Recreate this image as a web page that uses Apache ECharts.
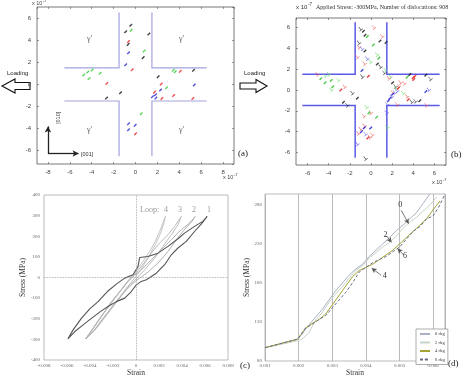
<!DOCTYPE html>
<html>
<head>
<meta charset="utf-8">
<script src="https://cdn.jsdelivr.net/npm/echarts@6/dist/echarts.min.js"></script>
<style>
  html, body { margin: 0; padding: 0; background: #fff; }
  #chart { width: 469px; height: 380px; }
</style>
</head>
<body>
<div id="chart"></div>
<script>
// ---- panel (a): dislocations before loading, x 10^-7 m
const aBlack = [[-0.43,5.35],[-0.9,4.77],[1.22,4.56],[-0.67,3.62],[0.7,2.42],[-1.37,-0.76],[-2.65,-1.24],[2.07,0.69],[5.3,1.27]]
const aGreen = [[-0.4,4.9],[0.79,3.02],[-4.73,0.85],[-4.36,1.12],[-3.96,1.3],[-3.23,1.0],[-4.24,0.54],[3.45,1.27],[3.63,1.15],[2.84,-0.3],[0.52,-2.66]]
const aRed = [[-0.64,3.87],[-0.3,1.33],[-2.62,0.09],[4.09,1.18],[2.35,0.03],[1.74,-0.7],[2.41,-1.27],[3.48,-1.0],[5.24,-1.27],[0,-4.47]]
const aBlue = [[-0.64,2.87],[-0.9,1.78],[5.37,-0.06],[2.29,-0.51],[1.83,-0.94],[1.55,-1.12],[1.86,-1.24],[-0.64,-3.56],[-0.03,-3.69],[-0.64,-4.1]]

// ---- panel (b): dislocations at -300MPa (dots and "T" symbols)
const bBlackDot = [[-0.72,5.63],[-0.57,5.25],[0.85,4.69],[1.42,4.56],[-0.57,3.74],[0.6,2.48],[-1.29,-0.79],[-2.61,-1.19],[2.04,0.69],[4.62,-1.04],[3.68,1.48],[5.19,1.42]]
const bBlackTee = [[-1.04,5.88],[-1.19,4.56],[0.85,2.26],[-0.88,1.32],[-1.82,-0.25],[-2.3,-1.42],[2.26,0.38],[4.15,-1.04],[5.57,1.1],[-0.57,-6.54],[1.2,1.7],[3.8,-1.1]]
const bGreenDot = [[-0.35,5.13],[0.22,4.31],[0.75,3.05],[-4.75,1.07],[-4.34,0.69],[-3.77,0.91],[-3.62,0.31],[3.43,1.23],[0.53,-2.61],[-0.2,-2.2]]
const bGreenTee = [[0.53,3.43],[1.32,1.95],[-0.09,2.74],[-4.03,1.54],[-3.14,1.0],[-3.8,0.06],[1.79,1.32],[2.99,-0.25],[-0.47,-1.6],[1.48,-3.55],[2.3,0.2],[-4.4,1.4]]
const bRedDot = [[-0.25,1.32],[-2.86,0],[2.58,0.16],[3.52,-0.94],[3.99,1.16],[4.15,1.32],[4.05,1.0],[-0.3,-4.6]]
const bRedTee = [[0.22,6.04],[-1.19,4.15],[-1.35,3.21],[-0.66,2.58],[-5.13,1.54],[-2.55,0.35],[1.64,1.16],[2.74,0.75],[3.11,0.69],[3.36,-0.57],[2.42,-1.35],[5.19,-1.42],[-0.09,-2.14],[-0.72,-2.45],[-1.04,-3.71],[-1.26,-4.12],[-0.66,-3.4],[-0.16,-4.5],[0.06,-4.25],[2.0,-0.2],[2.6,0.4],[1.0,5.2]]
const bBlueDot = [[-0.85,1.86],[2.04,-0.41],[1.79,-0.79],[1.64,-1.04],[5.19,-0.16],[-0.63,-3.62],[-0.03,-3.65],[-0.9,-4.0]]
const bBlueTee = [[-0.41,3.05],[2.42,-0.03],[1.48,-1.35],[5.41,0.06],[-0.57,-4.18],[-1.35,-5.13],[1.42,-2.14],[1.9,-0.6],[2.2,-0.2],[-0.9,4.0]]

// gamma / gamma' channel walls
const channels = [
  [[-6.5,1.5],[-1.5,1.5],[-1.5,6.5]],
  [[1.5,6.5],[1.5,1.5],[6.5,1.5]],
  [[-6.5,-1.5],[-1.5,-1.5],[-1.5,-6.5]],
  [[1.5,-6.5],[1.5,-1.5],[6.5,-1.5]]
]
const gammaPos = [[-4.2,4.1],[4.2,4.1],[-4.2,-4.1],[4.2,-4.1]]

// ---- panel (c): hysteresis loops, [strain, stress MPa]
const loop1 = [[-0.00593,-298],[-0.00547,-254],[-0.00475,-198],[-0.00402,-152],[-0.0033,-117],[-0.00249,-68],[-0.00171,-32],[-0.00098,-3],[-0.00026,13],[0.00017,53],[0.00032,97],[0.00104,102],[0.00191,118],[0.00278,151],[0.00365,188],[0.00422,215],[0.00509,248],[0.00581,272],[0.00619,296],
  [0.00567,259],[0.00509,223],[0.00437,175],[0.00365,143],[0.00307,110],[0.00249,62],[0.00177,21],[0.0009,-11],[0.00046,-19],[0.00003,-36],[-0.00041,-68],[-0.00098,-100],[-0.00171,-117],[-0.00243,-141],[-0.00301,-162],[-0.00388,-198],[-0.0046,-230],[-0.00532,-262],[-0.00593,-298]]
const loop2 = [[-0.00437,-298],[-0.0033,-214],[-0.00214,-117],[-0.00127,-60],[-0.00069,-19],[-0.00026,5],[0.00046,37],[0.00133,86],[0.0022,134],[0.00307,183],[0.00394,232],[0.00466,264],[0.00515,296],
  [0.00486,272],[0.00422,232],[0.0035,183],[0.00278,126],[0.00191,70],[0.00104,26],[0.00032,-3],[-0.00026,-28],[-0.00098,-68],[-0.00185,-125],[-0.00286,-198],[-0.00373,-262],[-0.00437,-298]]
const loop3 = [[-0.00437,-298],[-0.00315,-198],[-0.00185,-100],[-0.00084,-28],[-0.00026,5],[0.00046,53],[0.00133,118],[0.00205,167],[0.00278,207],[0.00336,248],[0.00394,296],
  [0.00365,256],[0.00307,207],[0.00234,151],[0.00162,94],[0.00075,37],[0.00003,-6],[-0.00055,-36],[-0.00142,-100],[-0.00243,-173],[-0.00344,-246],[-0.00437,-298]]
const loop4 = [[-0.00437,-298],[-0.00301,-189],[-0.00171,-92],[-0.00075,-19],[-0.00012,21],[0.00061,78],[0.00119,126],[0.00168,175],[0.00205,223],[0.00234,264],[0.00255,296],
  [0.00243,264],[0.00214,215],[0.00168,159],[0.00104,94],[0.00041,37],[-0.00017,-6],[-0.00084,-52],[-0.00171,-117],[-0.00272,-189],[-0.00359,-254],[-0.00437,-298]]

// ---- panel (d): stress-strain for misorientation angles
const deg0 = [[0.001,97],[0.00197,108],[0.0021,114],[0.0023,126],[0.0025,136],[0.0027,146],[0.0029,158],[0.0031,170],[0.0033,180],[0.0035,190],[0.0037,198],[0.0039,204],[0.0041,214],[0.0043,222],[0.0045,230],[0.0047,238],[0.0049,247],[0.0051,254],[0.0053,262],[0.0055,270],[0.0057,282],[0.0059,294]]
const deg2 = [[0.001,97],[0.00197,106],[0.0021,108],[0.0023,116],[0.0025,132],[0.0027,142],[0.0029,155],[0.0031,166],[0.0033,175],[0.0035,186],[0.0037,196],[0.0039,202],[0.0041,212],[0.0043,219],[0.0045,226],[0.0047,232],[0.0049,240],[0.0051,250],[0.0053,258],[0.0055,264],[0.0057,272],[0.0059,280],[0.0061,290]]
const deg4 = [[0.001,97],[0.00197,108],[0.0022,122],[0.0024,128],[0.0026,133],[0.0028,140],[0.003,152],[0.0032,164],[0.0034,176],[0.0036,188],[0.0038,196],[0.004,200],[0.0042,204],[0.0044,210],[0.0046,216],[0.0048,222],[0.005,230],[0.0052,238],[0.0054,246],[0.0056,254],[0.0058,262],[0.006,274],[0.0062,285]]
const deg6 = [[0.001,97],[0.00197,108],[0.0022,122],[0.0024,127],[0.0026,133],[0.0028,138],[0.003,148],[0.0032,158],[0.0034,168],[0.0036,180],[0.0038,194],[0.004,200],[0.0042,206],[0.0044,210],[0.0046,214],[0.0048,220],[0.005,226],[0.0052,236],[0.0054,246],[0.0056,252],[0.0058,262],[0.006,266],[0.0062,280],[0.00635,294]]
const degNames = ['0 deg', '2 deg', '4 deg', '6 deg']

const SANS = 'Liberation Sans'
const SERIF = 'Liberation Serif'
const teePath = 'path://M0,10L10,10L10,8.5L5.75,8.5L5.75,0L4.25,0L4.25,8.5L0,8.5Z'

const chart = echarts.init(document.getElementById('chart'))

// matlab-like box axes
const boxAxis = (dim, grid, min, max, pos, labels) => ({
  type: 'value', gridIndex: grid, min: min, max: max, position: pos,
  splitNumber: 7, scale: true,
  axisLine: { show: false, onZero: false },
  axisTick: { show: true, inside: true, length: 2, lineStyle: { color: '#555', width: 0.6 } },
  axisLabel: {
    show: labels, fontSize: 6, color: '#444', fontFamily: SANS, margin: dim === 'x' ? 5 : 6,
    showMinLabel: false, showMaxLabel: false,
    formatter: v => (Math.abs(v % 2) < 1e-9 ? String(v) : '')
  },
  splitLine: { show: false }
})

const dis = (data, color, xi) => ({
  type: 'scatter', xAxisIndex: xi, yAxisIndex: xi, data: data,
  symbol: 'rect', symbolSize: [3.6, 1.4], symbolRotate: 45,
  itemStyle: { color: color }, silent: true
})
const tee = (data, color) => ({
  type: 'scatter', xAxisIndex: 2, yAxisIndex: 2, data: data,
  symbol: teePath, symbolSize: 4.2, symbolRotate: 40,
  itemStyle: { color: color }, silent: true
})
const walls = (xi, color, w) => ({
  type: 'lines', coordinateSystem: 'cartesian2d', xAxisIndex: xi, yAxisIndex: xi,
  polyline: true, silent: true,
  lineStyle: { color: color, width: w, opacity: 1 },
  data: channels.map(c => ({ coords: c }))
})

const serifTick = { fontSize: 5, color: '#666', fontFamily: SERIF }

const option = {
  animation: false,
  backgroundColor: '#fff',
  grid: [
    { left: 37, top: 7, width: 197, height: 157, show: true, borderColor: '#555', borderWidth: 0.8, backgroundColor: '#fff' },
    { left: 296, top: 18, width: 150, height: 147, show: true, borderColor: '#555', borderWidth: 0.8, backgroundColor: '#fff' },
    { left: 44, top: 195, width: 184, height: 165, show: true, borderColor: '#aaa', borderWidth: 0.8 },
    { left: 265, top: 194, width: 180, height: 167, show: true, borderColor: '#aaa', borderWidth: 0.8 }
  ],
  xAxis: [
    Object.assign(boxAxis('x', 0, -9, 9, 'bottom', true), { splitNumber: 9 }),
    Object.assign(boxAxis('x', 0, -9, 9, 'top', false), { splitNumber: 9 }),
    boxAxis('x', 1, -7.1, 7.1, 'bottom', true),
    boxAxis('x', 1, -7.1, 7.1, 'top', false),
    {
      type: 'value', gridIndex: 2, min: -0.008, max: 0.008, interval: 0.002,
      axisLine: { show: false, onZero: false }, axisTick: { show: false }, splitLine: { show: false },
      axisLabel: Object.assign({ margin: 3 }, serifTick),
      name: 'Strain', nameLocation: 'middle', nameGap: 7,
      nameTextStyle: { fontSize: 7.5, color: '#333', fontFamily: SERIF }
    },
    {
      type: 'value', gridIndex: 3, min: 0.001, max: 0.00635, interval: 0.001,
      axisLine: { show: false, onZero: false }, axisTick: { show: false },
      splitLine: { show: true, lineStyle: { color: '#aaa', width: 0.8 } },
      axisLabel: Object.assign({ margin: 2, showMaxLabel: false }, serifTick),
      name: 'Strain', nameLocation: 'middle', nameGap: 1,
      nameTextStyle: { fontSize: 7.5, color: '#333', fontFamily: SERIF, verticalAlign: 'top' }
    }
  ],
  yAxis: [
    boxAxis('y', 0, -7.2, 7, 'left', true),
    boxAxis('y', 0, -7.2, 7, 'right', false),
    boxAxis('y', 1, -7.2, 6.9, 'left', true),
    boxAxis('y', 1, -7.2, 6.9, 'right', false),
    {
      type: 'value', gridIndex: 2, min: -400, max: 400, interval: 100,
      axisLine: { show: false, onZero: false }, axisTick: { show: false }, splitLine: { show: false },
      axisLabel: Object.assign({ margin: 4 }, serifTick),
      name: 'Stress (MPa)', nameLocation: 'middle', nameGap: 17,
      nameTextStyle: { fontSize: 7.5, color: '#333', fontFamily: SERIF }
    },
    {
      type: 'value', gridIndex: 3, min: 80, max: 294, interval: 50,
      axisLine: { show: false, onZero: false }, axisTick: { show: false }, splitLine: { show: false },
      axisLabel: Object.assign({ margin: 3, showMaxLabel: false }, serifTick),
      name: 'Stress (MPa)', nameLocation: 'middle', nameGap: 8,
      nameTextStyle: { fontSize: 7.5, color: '#333', fontFamily: SERIF }
    }
  ],
  legend: {
    data: degNames, orient: 'vertical', left: 416, top: 329,
    itemWidth: 10, itemHeight: 1.2, itemGap: 3.5, padding: [2.5, 3],
    borderColor: '#777', borderWidth: 0.6, backgroundColor: '#fff',
    textStyle: { fontSize: 4.5, color: '#333', fontFamily: SERIF }
  },
  series: [
    // (a)
    walls(0, '#a3a3dd', 1.2),
    dis(aBlack, '#111', 0), dis(aGreen, '#33cc33', 0), dis(aRed, '#e82020', 0), dis(aBlue, '#2525cc', 0),
    {
      type: 'scatter', xAxisIndex: 0, yAxisIndex: 0, data: gammaPos, symbolSize: 0, silent: true,
      label: { show: true, formatter: 'γ\'', fontSize: 8, color: '#333', fontFamily: SERIF },
      markLine: {
        silent: true, symbol: ['none', 'arrow'], symbolSize: [5, 6],
        lineStyle: { color: '#222', width: 1.3, type: 'solid' }, label: { show: false },
        data: [
          [{ coord: [-8, -6.25] }, { coord: [-8, -3.8] }],
          [{ coord: [-8, -6.25] }, { coord: [-5.2, -6.25] }]
        ]
      }
    },
    // (b)
    walls(2, '#5a5ae6', 1.5),
    tee(bBlackTee, '#222'), tee(bGreenTee, '#66dd66'), tee(bRedTee, '#ee5555'), tee(bBlueTee, '#5555ee'),
    dis(bBlackDot, '#111', 2), dis(bGreenDot, '#22bb22', 2), dis(bRedDot, '#e01010', 2), dis(bBlueDot, '#1515cc', 2),
    // (c)
    {
      type: 'line', xAxisIndex: 4, yAxisIndex: 4, data: loop4, showSymbol: false, symbol: 'none',
      lineStyle: { color: '#c4c4c4', width: 1 }, silent: true
    },
    {
      type: 'line', xAxisIndex: 4, yAxisIndex: 4, data: loop3, showSymbol: false, symbol: 'none',
      lineStyle: { color: '#bcbcbc', width: 1 }, silent: true
    },
    {
      type: 'line', xAxisIndex: 4, yAxisIndex: 4, data: loop2, showSymbol: false, symbol: 'none',
      lineStyle: { color: '#b0b0b0', width: 1 }, silent: true
    },
    {
      type: 'line', xAxisIndex: 4, yAxisIndex: 4, data: loop1, showSymbol: false, symbol: 'none',
      lineStyle: { color: '#555', width: 1.1 }, silent: true, z: 3,
      markLine: {
        silent: true, symbol: 'none', label: { show: false },
        lineStyle: { type: 'dotted', color: '#999', width: 0.8 },
        data: [{ xAxis: 0 }, { yAxis: 0 }]
      }
    },
    // (d)
    {
      name: degNames[0], type: 'line', xAxisIndex: 5, yAxisIndex: 5, data: deg0, symbol: 'none',
      lineStyle: { color: '#a9b0c4', width: 1 }, itemStyle: { color: '#a9b0c4' }, silent: true
    },
    {
      name: degNames[1], type: 'line', xAxisIndex: 5, yAxisIndex: 5, data: deg2, symbol: 'none',
      lineStyle: { color: '#c7d4c7', width: 1 }, itemStyle: { color: '#c7d4c7' }, silent: true
    },
    {
      name: degNames[2], type: 'line', xAxisIndex: 5, yAxisIndex: 5, data: deg4, symbol: 'none',
      lineStyle: { color: '#a3a332', width: 1 }, itemStyle: { color: '#a3a332' }, silent: true
    },
    {
      name: degNames[3], type: 'line', xAxisIndex: 5, yAxisIndex: 5, data: deg6, symbol: 'none',
      lineStyle: { color: '#6a6f8a', width: 1, type: [3, 2] }, itemStyle: { color: '#6a6f8a' }, silent: true,
      markLine: {
        silent: true, symbol: ['none', 'arrow'], symbolSize: [4, 5],
        lineStyle: { color: '#555', width: 0.8, type: 'solid' },
        label: { show: true, position: 'start', formatter: '{b}', fontSize: 8, color: '#333', fontFamily: SERIF, distance: 2 },
        data: [
          [{ name: '0', coord: [0.00505, 273] }, { coord: [0.00527, 256] }],
          [{ name: '2', coord: [0.00462, 240] }, { coord: [0.00476, 232] }],
          [{ name: '6', coord: [0.00512, 216] }, { coord: [0.00494, 224] }],
          [{ name: '4', coord: [0.00445, 190] }, { coord: [0.00417, 199] }]
        ]
      }
    }
  ],
  graphic: [
    // exponent notes
    { type: 'text', left: 32, top: 0, style: { text: 'x 10', fontSize: 5.5, fill: '#444', fontFamily: SANS } },
    { type: 'text', left: 43, top: -1, style: { text: '-7', fontSize: 4, fill: '#444', fontFamily: SANS } },
    { type: 'text', left: 223, top: 174, style: { text: 'x 10', fontSize: 5.5, fill: '#444', fontFamily: SANS } },
    { type: 'text', left: 234, top: 173, style: { text: '-7', fontSize: 4, fill: '#444', fontFamily: SANS } },
    { type: 'text', left: 296, top: 4, style: { text: 'x 10', fontSize: 6, fill: '#333', fontFamily: SANS } },
    { type: 'text', left: 308, top: 2, style: { text: '-7', fontSize: 4.5, fill: '#333', fontFamily: SANS } },
    { type: 'text', left: 316, top: 4, style: { text: 'Applied Stress: -300MPa, Number of dislocations: 908', fontSize: 6, fill: '#333', fontFamily: SERIF } },
    { type: 'text', left: 432, top: 179, style: { text: 'x 10', fontSize: 5.5, fill: '#444', fontFamily: SANS } },
    { type: 'text', left: 443, top: 178, style: { text: '-7', fontSize: 4, fill: '#444', fontFamily: SANS } },
    // loading arrows
    { type: 'text', left: 7, top: 70, style: { text: 'Loading', fontSize: 6, fill: '#222', fontFamily: SANS } },
    { type: 'polygon', shape: { points: [[2,86],[15,79],[15,82.5],[30,82.5],[30,89.5],[15,89.5],[15,93]] }, style: { fill: '#fff', stroke: '#111', lineWidth: 1.1 } },
    { type: 'text', left: 244, top: 70, style: { text: 'Loading', fontSize: 6, fill: '#222', fontFamily: SANS } },
    { type: 'polygon', shape: { points: [[240,83],[256,83],[256,79.5],[267,86],[256,92.5],[256,89],[240,89]] }, style: { fill: '#fff', stroke: '#111', lineWidth: 1.1 } },
    // crystal directions
    { type: 'text', x: 55, y: 124, rotation: Math.PI / 2, style: { text: '[010]', fontSize: 5.5, fill: '#333', fontFamily: SANS } },
    { type: 'text', left: 81, top: 151, style: { text: '[001]', fontSize: 5.5, fill: '#333', fontFamily: SANS } },
    // loop labels
    { type: 'text', left: 140, top: 206, style: { text: 'Loop:', fontSize: 8, fill: '#999', fontFamily: SERIF } },
    { type: 'text', left: 164, top: 206, style: { text: '4', fontSize: 8, fill: '#999', fontFamily: SERIF } },
    { type: 'text', left: 178, top: 206, style: { text: '3', fontSize: 8, fill: '#999', fontFamily: SERIF } },
    { type: 'text', left: 192, top: 206, style: { text: '2', fontSize: 8, fill: '#999', fontFamily: SERIF } },
    { type: 'text', left: 207, top: 206, style: { text: '1', fontSize: 8, fill: '#999', fontFamily: SERIF } },
    // panel tags
    { type: 'text', left: 238, top: 149, style: { text: '(a)', fontSize: 9, fill: '#222', fontFamily: SERIF } },
    { type: 'text', left: 451, top: 150, style: { text: '(b)', fontSize: 9, fill: '#222', fontFamily: SERIF } },
    { type: 'text', left: 240, top: 361, style: { text: '(c)', fontSize: 9, fill: '#222', fontFamily: SERIF } },
    { type: 'text', left: 448, top: 359, style: { text: '(d)', fontSize: 9, fill: '#222', fontFamily: SERIF } }
  ]
}

chart.setOption(option)
</script>
</body>
</html>
